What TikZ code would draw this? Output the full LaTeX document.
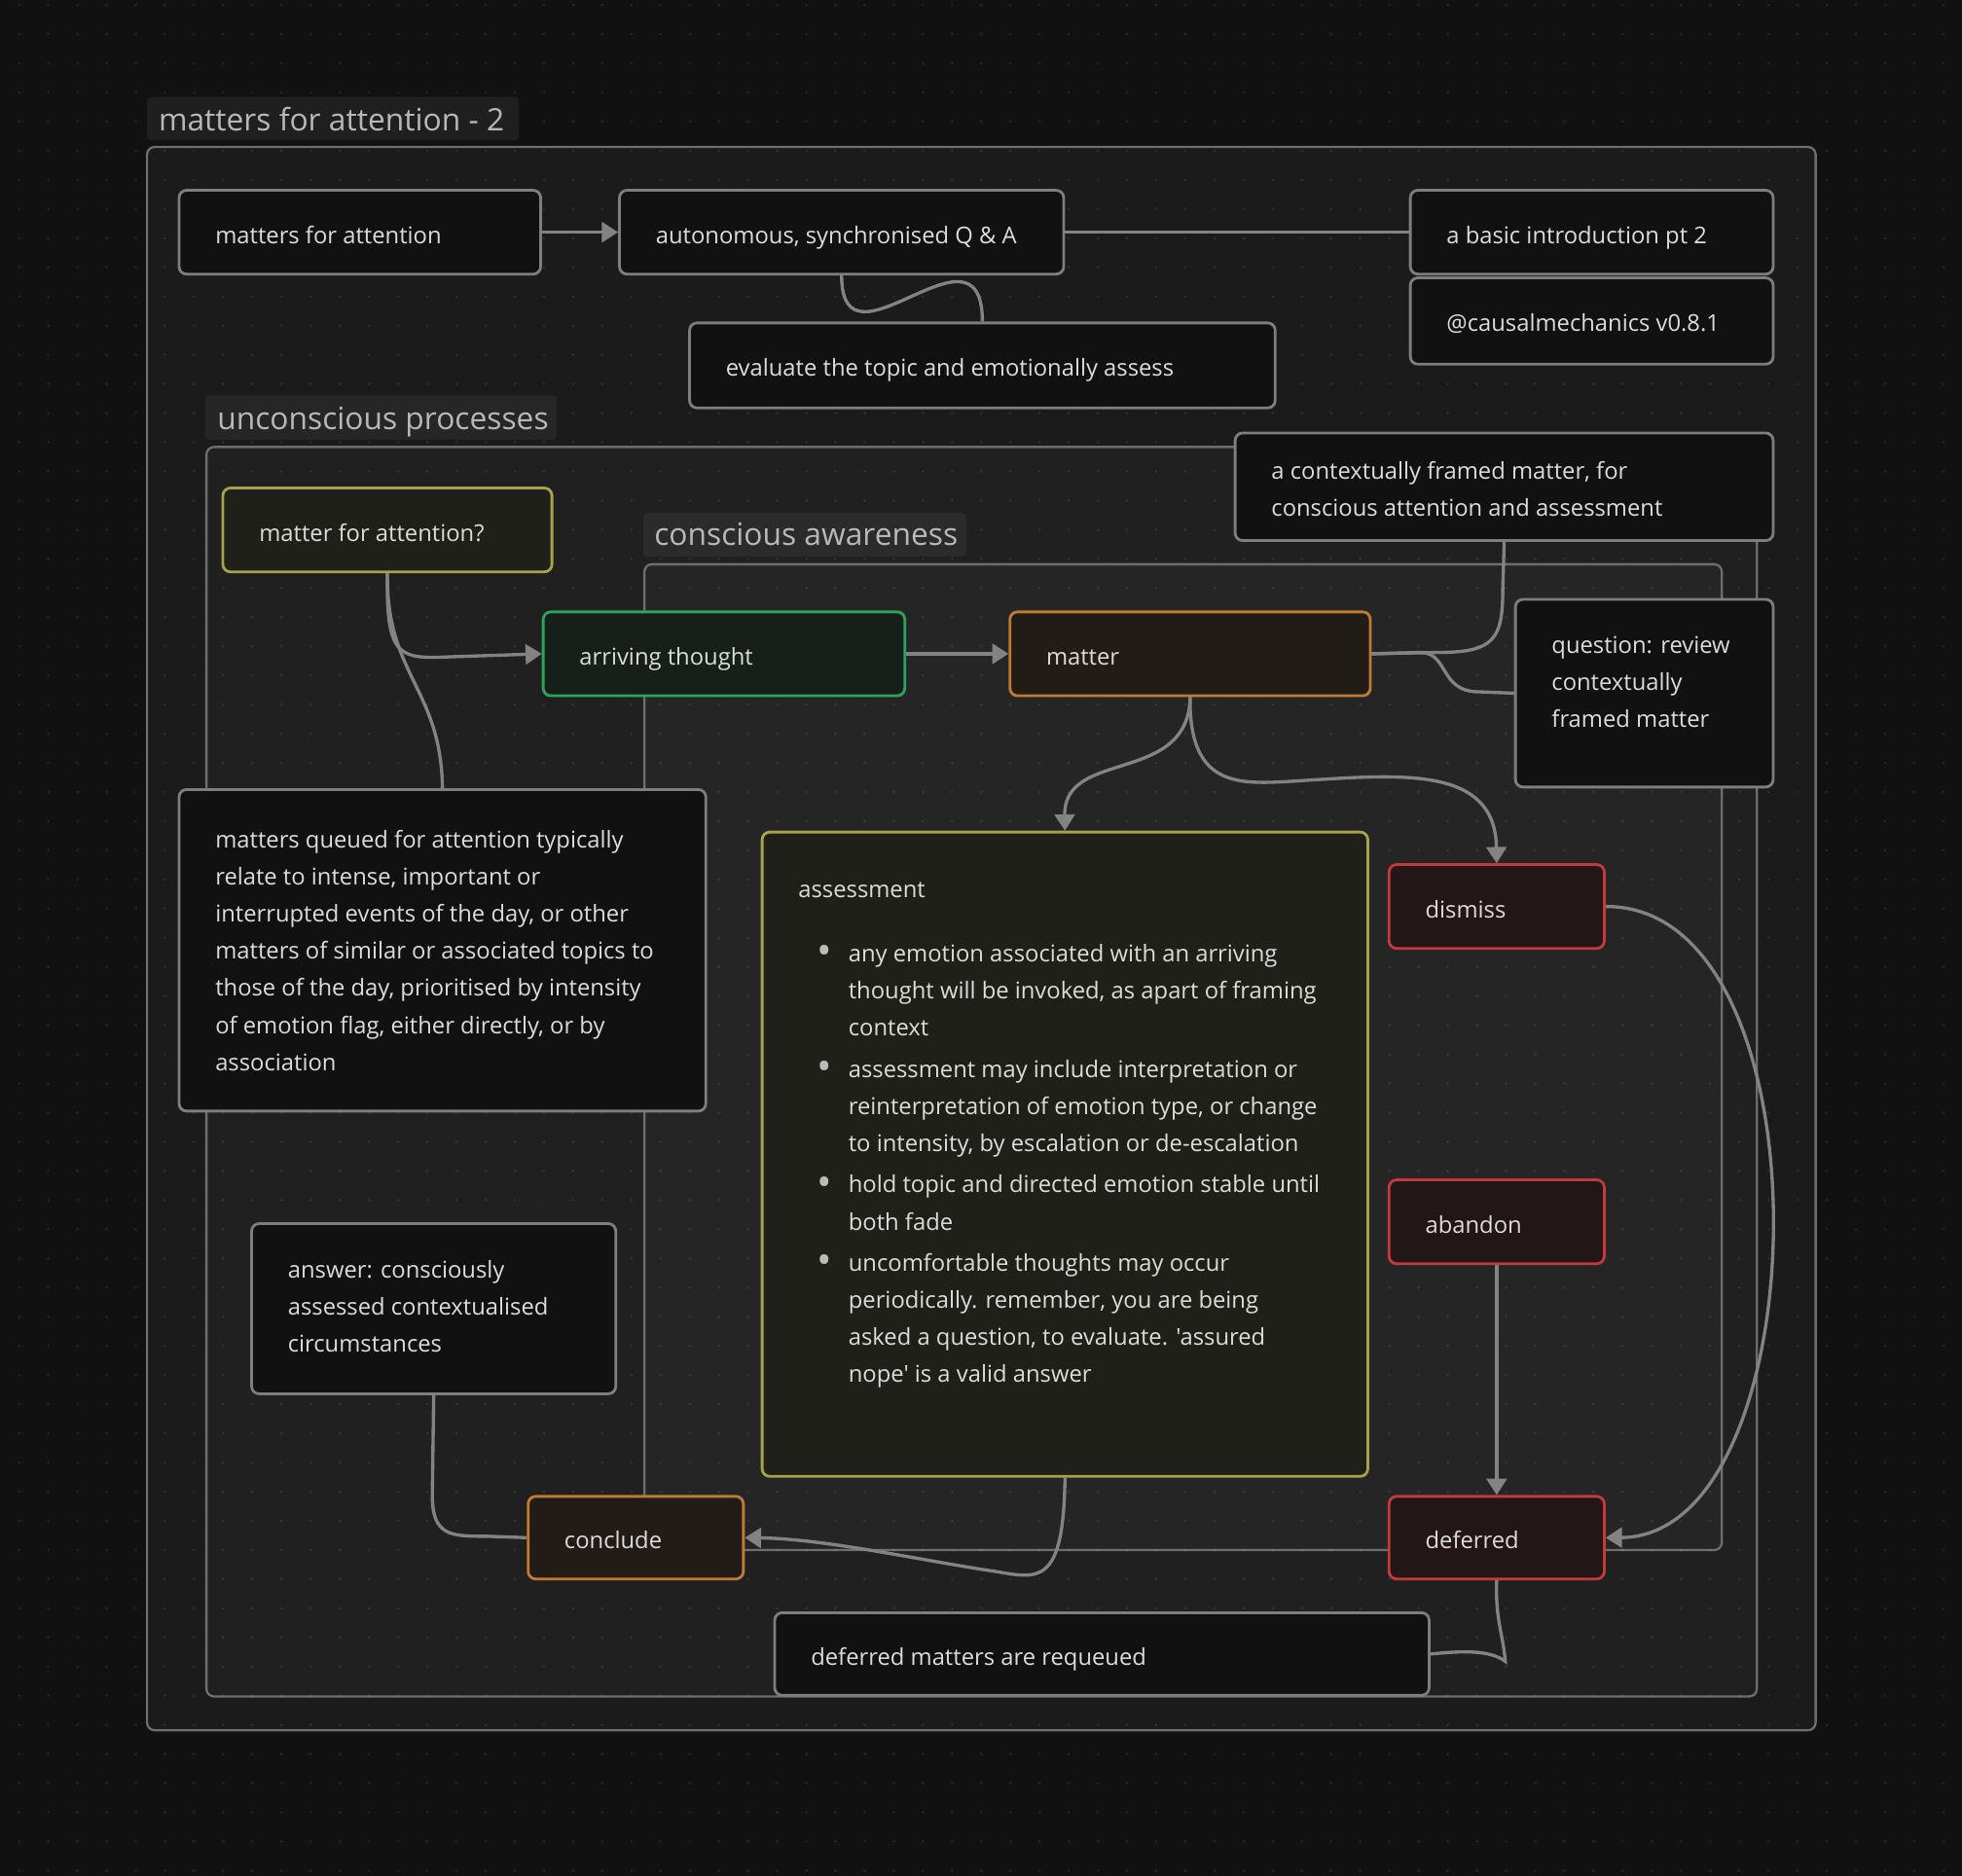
\documentclass[tikz,border=0pt]{standalone}
\usepackage{fontspec}
\newfontfamily\bodyfam{Open Sans}
\usetikzlibrary{arrows.meta}
\pgfdeclarelayer{back}
\pgfdeclarelayer{edges}
\pgfsetlayers{back,edges,main}
\definecolor{bgc}{HTML}{111111}
\definecolor{g1f}{HTML}{1B1B1B}
\definecolor{g2f}{HTML}{202020}
\definecolor{g3f}{HTML}{252525}
\definecolor{l1f}{HTML}{1F1F1F}
\definecolor{l2f}{HTML}{262626}
\definecolor{l3f}{HTML}{2B2B2B}
\definecolor{gline}{HTML}{6E6E6E}
\definecolor{nline}{HTML}{7E7E7E}
\definecolor{nfill}{HTML}{111111}
\definecolor{txtc}{HTML}{DCDCDC}
\definecolor{ttlc}{HTML}{B8B8B8}
\definecolor{conc}{HTML}{838383}
\definecolor{bulc}{HTML}{BBBBBB}
\definecolor{yelb}{HTML}{A8A24C}
\definecolor{yelf}{HTML}{20201A}
\definecolor{grnb}{HTML}{2FA35A}
\definecolor{grnf}{HTML}{171F1A}
\definecolor{orgb}{HTML}{C07A32}
\definecolor{orgf}{HTML}{221C17}
\definecolor{redb}{HTML}{C23A3E}
\definecolor{redf}{HTML}{221617}
% #1 left pad, #2 width, #3 height, #4 first baseline, #5 text
\newcommand\tbox[5]{\hbox to #2pt{\hspace*{#1pt}\parbox[c][#3pt][t]{\dimexpr#2pt-#1pt-6pt\relax}{\raggedright\rule{0pt}{#4pt}#5}\hss}}
\newcommand\tx{\tbox{29}}
\newcommand\bl{\noindent\llap{\makebox[25pt][l]{\color{bulc}\fontsize{32pt}{32pt}\selectfont\raisebox{-2.5pt}{•}}}}
\begin{document}
\begin{tikzpicture}[x=1pt,y=-1pt,
  grp/.style={draw=gline, line width=1.8pt, rounded corners=6pt},
  nd/.style={draw=nline, fill=nfill, line width=2.2pt, rounded corners=6pt, anchor=north west, inner sep=0pt, text=txtc, font=\bodyfam\fontsize{18.5pt}{29.7pt}\selectfont},
  nyel/.style={nd, draw=yelb, fill=yelf},
  ngrn/.style={nd, draw=grnb, fill=grnf},
  norg/.style={nd, draw=orgb, fill=orgf},
  nred/.style={nd, draw=redb, fill=redf},
  glabel/.style={draw=none, rounded corners=3pt, anchor=north west, inner sep=0pt, text=ttlc, font=\bodyfam\fontsize{24.7pt}{30pt}\selectfont},
  conn/.style={draw=conc, line width=2.6pt},
  harrow/.style={-{Triangle[length=13pt,width=16pt]}}]
\useasboundingbox (0,0) rectangle (1568,1499.5);
\begin{pgfonlayer}{back}
\fill[bgc] (0,0) rectangle (1568,1499.5);
% groups
\draw[grp, fill=g1f] (117.5,117.5) rectangle (1451,1383);
\draw[grp, fill=g2f] (165,357.3) rectangle (1404,1356);
\draw[grp, fill=g3f] (515,451) rectangle (1376,1239);
% dot grid
\foreach \i in {0,...,66} {\foreach \j in {0,...,64} {\fill[white, fill opacity=0.09] (15.3+23.3*\i, 4+23.3*\j) circle (1.1pt);}}
\end{pgfonlayer}
% group labels
\node[glabel, fill=l1f] (gt1) at (117.3,77.3) {\tbox{9.3}{297}{34.7}{27.2}{matters for attention - 2}};
\node[glabel, fill=l2f] (gt2) at (163.7,315.8) {\tbox{9.8}{281}{35.5}{27}{unconscious processes}};
\node[glabel, fill=l3f] (gt3) at (514,409.6) {\tbox{8.7}{258}{35}{26.5}{conscious awareness}};
% nodes
\node[nd] (mfa) at (142,151) {\tx{289}{67}{42.5}{matters for attention}};
\node[nd] (auto) at (494,151) {\tx{355}{67}{42.5}{autonomous, synchronised Q \& A}};
\node[nd] (intro) at (1126,151) {\tx{290}{67}{42.5}{a basic introduction pt 2}};
\node[nd] (cm) at (1126,221) {\tx{290}{69}{43}{@causalmechanics v0.8.1}};
\node[nd] (eval) at (550,257) {\tx{468}{68}{42.5}{evaluate the topic and emotionally assess}};
\node[nd] (ctx) at (986,345) {\tx{430}{86}{37}{a contextually framed matter, for\\conscious attention and assessment}};
\node[nyel] (mfaq) at (177,389) {\tx{263}{67}{42.5}{matter for attention?}};
\node[ngrn] (arr) at (433,488) {\tx{289}{67}{42.5}{arriving thought}};
\node[norg] (mat) at (806,488) {\tx{288}{67}{42.5}{matter}};
\node[nd] (q) at (1210,478) {\tx{206}{150}{43}{question: review\\contextually\\framed matter}};
\node[nd] (queue) at (142,630) {\tx{421}{257}{46.5}{matters queued for attention typically\\relate to intense, important or\\interrupted events of the day, or other\\matters of similar or associated topics to\\those of the day, prioritised by intensity\\of emotion flag, either directly, or by\\association}};
\node[nyel] (assess) at (608,664) {\tx{484}{515}{52.5}{assessment\par\vspace{21.3pt}\leftskip=40pt
\bl any emotion associated with an arriving\\thought will be invoked, as apart of framing\\context\par\vspace{3.3pt}
\bl assessment may include interpretation or\\reinterpretation of emotion type, or change\\to intensity, by escalation or de-escalation\par\vspace{3.3pt}
\bl hold topic and directed emotion stable until\\both fade\par\vspace{3.3pt}
\bl uncomfortable thoughts may occur\\periodically. remember, you are being\\asked a question, to evaluate. 'assured\\nope' is a valid answer}};
\node[nred] (dis) at (1109,690) {\tx{172}{67}{42.5}{dismiss}};
\node[nred] (aba) at (1109,942) {\tx{172}{67}{42.5}{abandon}};
\node[nd] (ans) at (200,977) {\tx{291}{136}{43.5}{answer: consciously\\assessed contextualised\\circumstances}};
\node[norg] (con) at (421,1195) {\tx{172}{66}{42}{conclude}};
\node[nred] (def) at (1109,1195) {\tx{172}{66}{42}{deferred}};
\node[nd] (req) at (618,1288) {\tx{523}{66}{42}{deferred matters are requeued}};
% connectors
\begin{pgfonlayer}{edges}
\draw[conn,harrow] (mfa.east) -- (auto.west);
\draw[conn] (auto.east) -- (intro.west);
\draw[conn] (auto.south) .. controls +(0,85) and +(0,-90) .. (eval.north);
\draw[conn,harrow] (mfaq.south) .. controls (308.5,525) and (318,527) .. (360,525) -- (arr.west);
\draw[conn] (mfaq.south) .. controls (308.5,540) and (352.5,550) .. (queue.north);
\draw[conn,harrow] (arr.east) -- (mat.west);
\draw[conn] (mat.east) -- (1150,521.5) .. controls (1195,521.5) and (1201,510) .. (1201,470) -- (ctx.south);
\draw[conn] (mat.east) -- (1135,521.5) .. controls (1158,521.5) and (1150,553) .. (1182,553) -- (q.west);
\draw[conn,harrow] (mat.south) .. controls (950,628) and (850,598) .. (assess.north);
\draw[conn,harrow] (mat.south) .. controls (950,632) and (992,627) .. (1040,624) .. controls (1120,619) and (1195,612) .. (dis.north);
\draw[conn,harrow] (dis.east) .. controls (1465,723.5) and (1455,1228) .. (def.east);
\draw[conn,harrow] (aba.south) -- (def.north);
\draw[conn,harrow] (assess.south) .. controls (850,1268) and (830,1262) .. (795,1256) .. controls (740,1248) and (660,1230) .. (con.east);
\draw[conn] (ans.south) -- (345.5,1195) .. controls (345.5,1228) and (360,1228) .. (390,1228) -- (con.west);
\draw[conn] (def.south) .. controls (1195,1295) and (1201,1305) .. (1203,1328) .. controls (1190,1318) and (1165,1320) .. (req.east);
\end{pgfonlayer}
\end{tikzpicture}
\end{document}
